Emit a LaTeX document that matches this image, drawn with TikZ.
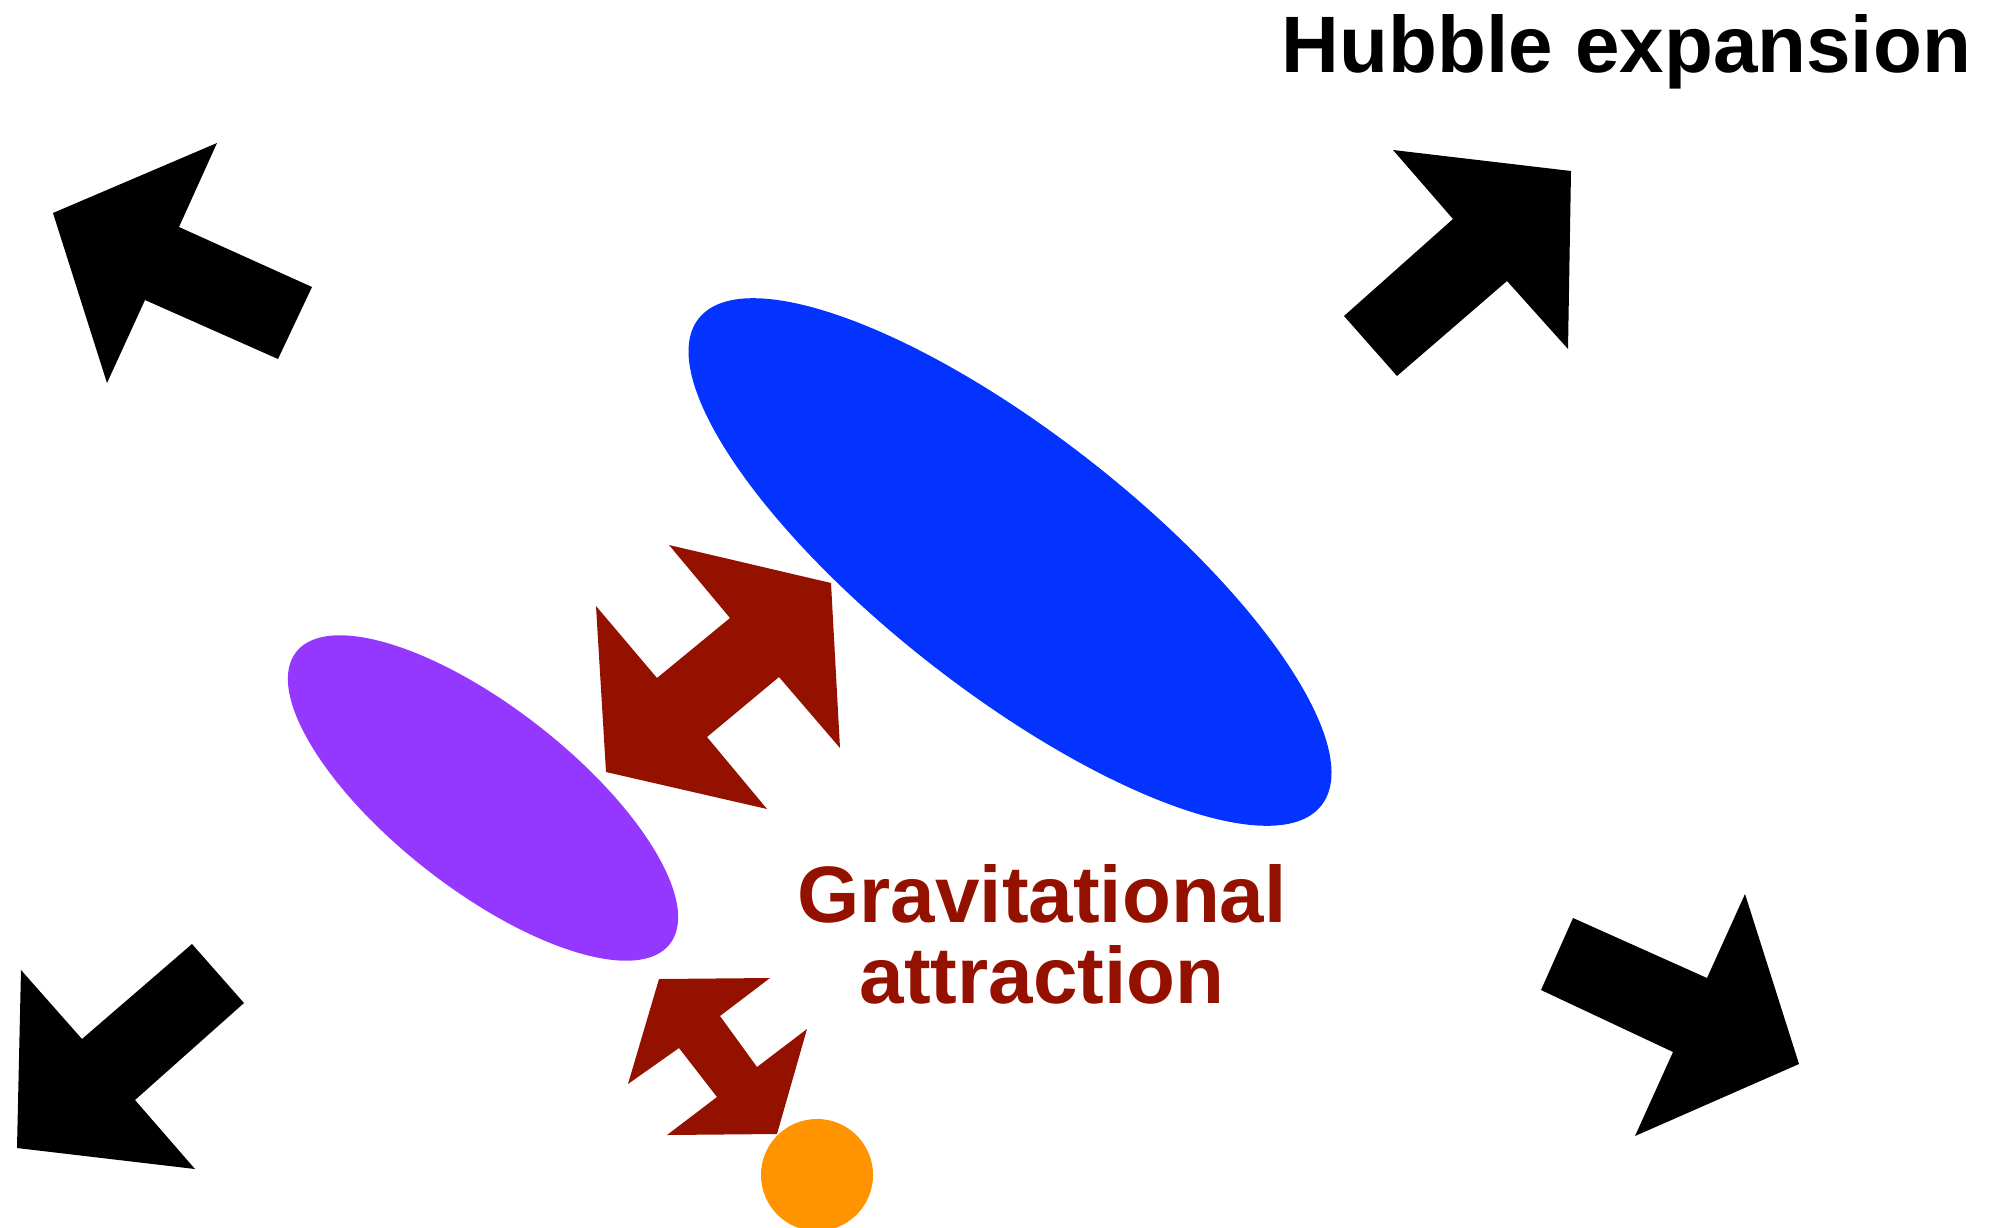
\documentclass[tikz,border=0pt]{standalone}
\usepackage{fontspec}
\setmainfont{Liberation Sans}
\usetikzlibrary{shapes.geometric}
\definecolor{blueberry}{HTML}{0433FF}
\definecolor{grape}{HTML}{9437FF}
\definecolor{tangerine}{HTML}{FF9300}
\definecolor{cayenne}{HTML}{941100}

\begin{document}
\begin{tikzpicture}[x=0.01cm, y=-0.01cm,
      blob/.style={ellipse, inner sep=0pt, draw=none},
      hubarrow/.style={fill=black},
      gravarrow/.style={fill=cayenne},
      lbl/.style={font=\fontsize{22.76pt}{22.76pt}\selectfont\bfseries, inner sep=0pt}
    ]
      \useasboundingbox (0,0) rectangle (1991,1227);
      % galaxies
      \node[blob, fill=blueberry, minimum width=7.9cm, minimum height=2.58cm, rotate=-38] (big) at (1010,562) {};
      \node[blob, fill=grape, minimum width=4.74cm, minimum height=1.82cm, rotate=-38] (small) at (483,798) {};
      \node[circle, fill=tangerine, inner sep=0pt, minimum size=1.12cm] (dwarf) at (817,1175) {};
      % expansion arrows
      \fill[hubarrow] (53,213) -- (217,143) -- (179,227) -- (312,287) -- (278,359) -- (145,300) -- (107,383) -- cycle;
      \fill[hubarrow] (1571,171) -- (1568,349) -- (1507,281) -- (1397,376) -- (1344,316) -- (1453,219) -- (1393,150) -- cycle;
      \fill[hubarrow] (17,1148) -- (21,970) -- (82,1039) -- (192,944) -- (244,1003) -- (135,1100) -- (195,1169) -- cycle;
      \fill[hubarrow] (1799,1064) -- (1635,1136) -- (1673,1052) -- (1541,990) -- (1573,918) -- (1707,978) -- (1745,894) -- cycle;
      % attraction arrows
      \fill[gravarrow] (831,583) -- (669,545) -- (730,618) -- (657,678) -- (596,606) -- (606,772) -- (767,809)
        -- (707,737) -- (779,677) -- (840,748) -- cycle;
      \fill[gravarrow] (659,979) -- (770,978) -- (720,1016) -- (757,1067) -- (807,1029) -- (777,1134) -- (667,1135)
        -- (717,1097) -- (679,1048) -- (628,1084) -- cycle;
      % labels
      \node[lbl, anchor=base west] (hubble) at (1281,72) {Hubble expansion};
      \node[lbl, text=cayenne, anchor=base] (grav) at (1042,922) {Gravitational};
      \node[lbl, text=cayenne, anchor=base] (attr) at (1042,1003) {attraction};
    \end{tikzpicture}
\end{document}
